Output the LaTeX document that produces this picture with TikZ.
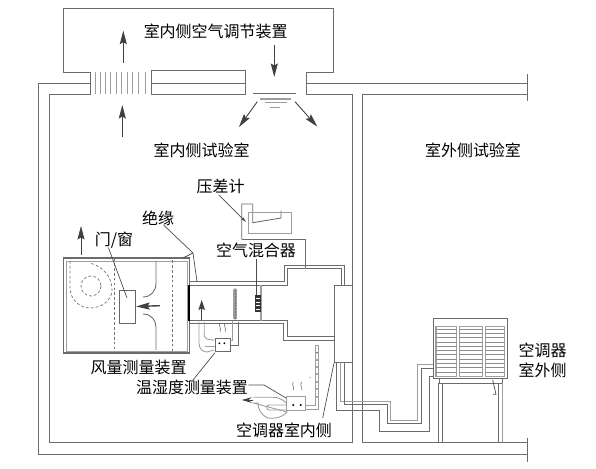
\documentclass[tikz,border=0pt]{standalone}
\usepackage{fontspec}
\setmainfont{Noto Sans CJK SC}
\usetikzlibrary{arrows.meta}
\begin{document}
\begin{tikzpicture}[x=0.02cm, y=-0.02cm, line width=0.5pt,
    >={Stealth[length=2.7mm, width=1.4mm, inset=0.4mm]},
    wall/.style={draw=black!58},
    pale/.style={draw=black!38},
    flow/.style={draw=black!75, ->},
    leader/.style={draw=black!70, line width=0.4pt},
    hidden/.style={draw=black!55, dashed, dash pattern=on 1.6pt off 1.2pt, line width=0.4pt},
    lab/.style={inner sep=0pt, font=\fontsize{9.1}{11}\selectfont, align=center}]
    \useasboundingbox (0,0) rectangle (596,469);

    % --- rooms ---
    \draw[wall] (90,72) -- (63.5,72) -- (63.5,8.5) -- (333,8.5) -- (333,72) -- (306,72) -- (306,94) -- (352.7,94) -- (352.7,442) -- (49.3,442) -- (49.3,94) -- (90,94) -- cycle;
    \draw[wall] (90,83.3) -- (38,83.3) -- (38,454) -- (527.5,454);
    \draw[wall] (306,83.3) -- (527.5,83.3);
    \draw[wall] (527.5,442) -- (362,442) -- (362,94) -- (527.5,94);
    \draw[wall] (527.5,74) -- (527.5,101);
    \draw[wall] (527.5,438) -- (527.5,462);
    \draw[wall] (151,70.7) rectangle (245,94.3);
    \draw[wall] (151,83.3) -- (245,83.3);
    \foreach \xpos in {95,100,105.7,110.7,116,121.7,127.3,132.7,138.3,145}
        \draw[pale] (\xpos,72) -- (\xpos,94);

    % --- diffuser ---
    \draw[wall] (253.3,93.3) -- (296,93.3);
    \draw[pale, line width=0.9pt] (260,99) -- (290.7,99);
    \draw[pale] (265,102.7) -- (286.7,102.7);
    \draw[pale] (270,107.3) -- (280,107.3);

    % --- room air arrows ---
    \coordinate (Ua) at (123.3,62.7);
    \coordinate (Ub) at (123.3,30.7);
    \coordinate (Va) at (122.3,137);
    \coordinate (Vb) at (122.3,105);
    \coordinate (Da) at (274.3,45);
    \coordinate (Db) at (274.3,77);
    \coordinate (Ea) at (257.3,101.7);
    \coordinate (Eb) at (239,127);
    \coordinate (Fa) at (295,101.7);
    \coordinate (Fb) at (317.3,126.7);
    \draw[flow] (Ua) -- (Ub);
    \draw[flow] (Va) -- (Vb);
    \draw[flow] (Da) -- (Db);
    \draw[flow] (Ea) -- (Eb);
    \draw[flow] (Fa) -- (Fb);

    % --- indoor unit ---
    \draw[wall, line width=0.7pt] (63.5,258) rectangle (189.3,353);
    \draw[pale] (66,261) rectangle (187,351);
    \draw[hidden] (70,261) -- (70,287) .. controls (70,300) and (80,308) .. (90,308) .. controls (102,308) and (112,300) .. (112,290) .. controls (112,276) and (102,266) .. (90,263);
    \draw[hidden] (91,286) circle (10);
    \draw[hidden] (114,258) -- (114,351);
    \draw[hidden] (172.7,260) -- (172.7,351);
    \node[draw=black!60, minimum width=0.334cm, minimum height=0.66cm, inner sep=0pt] (door) at (127.3,306.5) {};
    \coordinate (Na) at (160,305.7);
    \draw[flow, line width=0.8pt] (Na) -- (door.east);
    \draw[wall] (156,261) -- (156,283) .. controls (156,291) and (151,297) .. (143,297);
    \draw[wall] (143,314) .. controls (151,314) and (156,320) .. (156,327) -- (156,350);
    \coordinate (Oa) at (81,255);
    \coordinate (Ob) at (81,226);
    \draw[flow] (Oa) -- (Ob);

    % --- duct ---
    \draw[wall] (189,281.7) -- (284,281.7) -- (284,265) -- (344.7,265) -- (344.7,285);
    \draw[wall] (189,285.3) -- (287.3,285.3) -- (287.3,268.7) -- (341,268.7) -- (341,285);
    \draw[wall] (189,320.7) -- (287,320.7) -- (287,336.7) -- (334,336.7);
    \draw[wall] (189,323.3) -- (283.3,323.3) -- (283.3,340) -- (334,340);
    \draw[black, line width=0.8pt] (189,285.3) -- (189,320.7);
    \draw[wall] (334,285) rectangle (352.3,362);
    \draw[pale, line width=1.2pt] (261,285) -- (261,321);
    \node[fill=black!80, minimum width=0.12cm, minimum height=0.33cm, inner sep=0pt] (mixer) at (258,303.3) {};
    \foreach \ypos in {298.5,302,305.5,309}
        \draw[white, line width=0.45pt] (255.8,\ypos) -- (260.2,\ypos);
    \draw[pale, line width=1.9pt, line cap=round] (235,290) -- (235,318);
    \foreach \ypos in {291,294,...,318}
        \fill[black!70] (235.5,\ypos) circle (0.6);
    \coordinate (Ga) at (201.7,320);
    \coordinate (Gb) at (201.7,300);
    \draw[flow, line width=0.7pt, >={Stealth[length=2mm, width=1.3mm, inset=0.3mm]}] (Ga) -- (Gb);

    % --- upper measuring set ---
    \draw[wall] (215,338) rectangle (230,351.7);
    \fill[black] (219.3,343.3) circle (1) (224.3,343.3) circle (1);
    \draw[pale] (199,322) -- (199,343) .. controls (199,349) and (203,352) .. (207,352) -- (214,350);
    \draw[pale] (204.3,322) -- (204.3,335) .. controls (204.3,338) and (206,340) .. (215,340);
    \draw[pale] (205,346) -- (215,346);
    \draw[wall] (230,345) -- (238.3,345) -- (238.3,321.7);
    \draw[pale] (230,340) -- (232.7,340) -- (232.7,321);
    \draw[black!60, line width=0.3pt] (220,323) .. controls (218,326) and (222,328) .. (220,332);
    \draw[black!60, line width=0.3pt] (225,323) .. controls (223,326) and (227,328) .. (225,332);

    % --- lower measuring set ---
    \draw[pale] (286.7,396.7) rectangle (305.7,410);
    \fill[black] (293.3,405) circle (1.1) (300.7,405) circle (1.1);
    \draw[pale] (253.3,397.3) -- (273,397.3) .. controls (282,397.3) and (286,403) .. (287,404);
    \draw[pale] (287,412) .. controls (282,418) and (274,419) .. (268,418) .. controls (261,415) and (258,409) .. (258,403) -- (253.3,403) -- cycle;
    \draw[pale] (287,405) -- (269,405) .. controls (266,405) and (266,410) .. (269,410) -- (287,410);
    \draw[pale] (305.7,405) -- (315.3,405) -- (315.3,345) -- (318.7,345) -- (318.7,409) -- (305.7,409);
    \foreach \ypos in {352.7,360,367,374,382,389,397}
        \fill[black!70] (317,\ypos) circle (0.9);
    \fill[black!70] (310,377.7) circle (0.5);
    \draw[black!60, line width=0.3pt] (293.3,382) .. controls (291,385) and (295,387) .. (293.3,390);
    \draw[black!60, line width=0.3pt] (301.7,382) .. controls (299,385) and (303,387) .. (301.7,390);
    \coordinate (Ha) at (253,400);
    \coordinate (Hb) at (241.7,400);
    \draw[flow, >={Stealth[length=2mm, width=1.1mm]}] (Ha) -- (Hb);

    % --- pressure gauge ---
    \draw[wall] (241.7,239.3) -- (241.7,204) -- (252.7,204) -- (252.7,222.7) -- (281,218) -- (281,210.7);
    \draw[pale] (248,212) rectangle (291.7,233);
    \draw[wall] (241.7,239.3) -- (305.7,239.3) -- (305.7,268.7);

    % --- outdoor unit ---
    \draw[wall] (433.3,318.3) rectangle (507.7,378.3);
    \foreach \xa/\xb in {436/456.7, 459.3/482.7, 485.3/504.7} {
        \draw[pale, line width=0.8pt] (\xa,326.7) rectangle (\xb,376.7);
        \foreach \ypos in {329,333.3,...,375}
            \draw[black!45, line width=0.35pt] (\xa,\ypos) -- (\xb,\ypos);
    }
    \draw[wall] (439,378.3) -- (439,383.3) -- (502.7,383.3) -- (502.7,378.3);
    \draw[wall] (438.3,383.3) -- (438.3,442);
    \draw[wall] (442.7,383.3) -- (442.7,442);
    \draw[wall] (498.3,383.3) -- (498.3,442);
    \draw[pale, line width=0.9pt] (502.7,383.3) -- (502.7,442);
    \draw[leader] (492.7,380) -- (496,394.3) -- (493,394.3);

    % --- refrigerant lines ---
    \draw[wall] (336.7,362) -- (336.7,410) -- (379.3,410) -- (379.3,431.7) -- (429.3,431.7) -- (429.3,376.7) -- (433.3,376.7);
    \draw[pale] (340.7,362) -- (340.7,401.7) -- (390,401.7) -- (390,420) -- (417.3,420) -- (417.3,364.3) -- (433.3,364.3);
    \draw[wall] (344.7,362) -- (344.7,404.3) -- (387.3,404.3) -- (387.3,423.3) -- (421.3,423.3) -- (421.3,368.3) -- (433.3,368.3);

    % --- labels ---
    \node[lab] (Lsupply) at (215.7,31) {室内侧空气调节装置};
    \node[lab] (Lindoor) at (201.7,150) {室内侧试验室};
    \node[lab] (Loutdoor) at (473,150) {室外侧试验室};
    \node[lab] (Lgauge) at (220.7,186) {压差计};
    \node[lab] (Lins) at (158,218) {绝缘};
    \node[lab] (Ldoor) at (114,240) {门/窗};
    \node[lab] (Lmix) at (256,250.7) {空气混合器};
    \node[lab] (Lflow) at (138.7,367) {风量测量装置};
    \node[lab] (Ltemp) at (192,387) {温湿度测量装置};
    \node[lab] (Lin) at (284,430) {空调器室内侧};
    \node[lab, font=\fontsize{9.1}{11.4}\selectfont] (Lout) at (542.7,360.7) {空调器\\室外侧};

    % --- leaders ---
    \coordinate (Kins) at (193,253);
    \draw[leader] (Lins.south east) ++(-11,-1) -- (Kins);
    \draw[leader] (Kins) -- (183,258);
    \draw[leader] (Kins) -- (197,281.6);
    \draw[leader] (Ldoor.south west) ++(14,-1) -- (127,298);
    \draw[leader, ->, >={Stealth[length=1.2mm, width=0.6mm]}] (Lgauge.south) ++(-2,1) -- (246,222);
    \draw[leader] (Lmix.south) -- (mixer.north -| Lmix.south);
    \draw[leader] (193,380) -- (215,352.7);
    \draw[leader] (Ltemp.east) ++(0,-2) -- (264,385) -- (286,398);
    \draw[leader] (334,363) -- (322.7,418);
\end{tikzpicture}
\end{document}
